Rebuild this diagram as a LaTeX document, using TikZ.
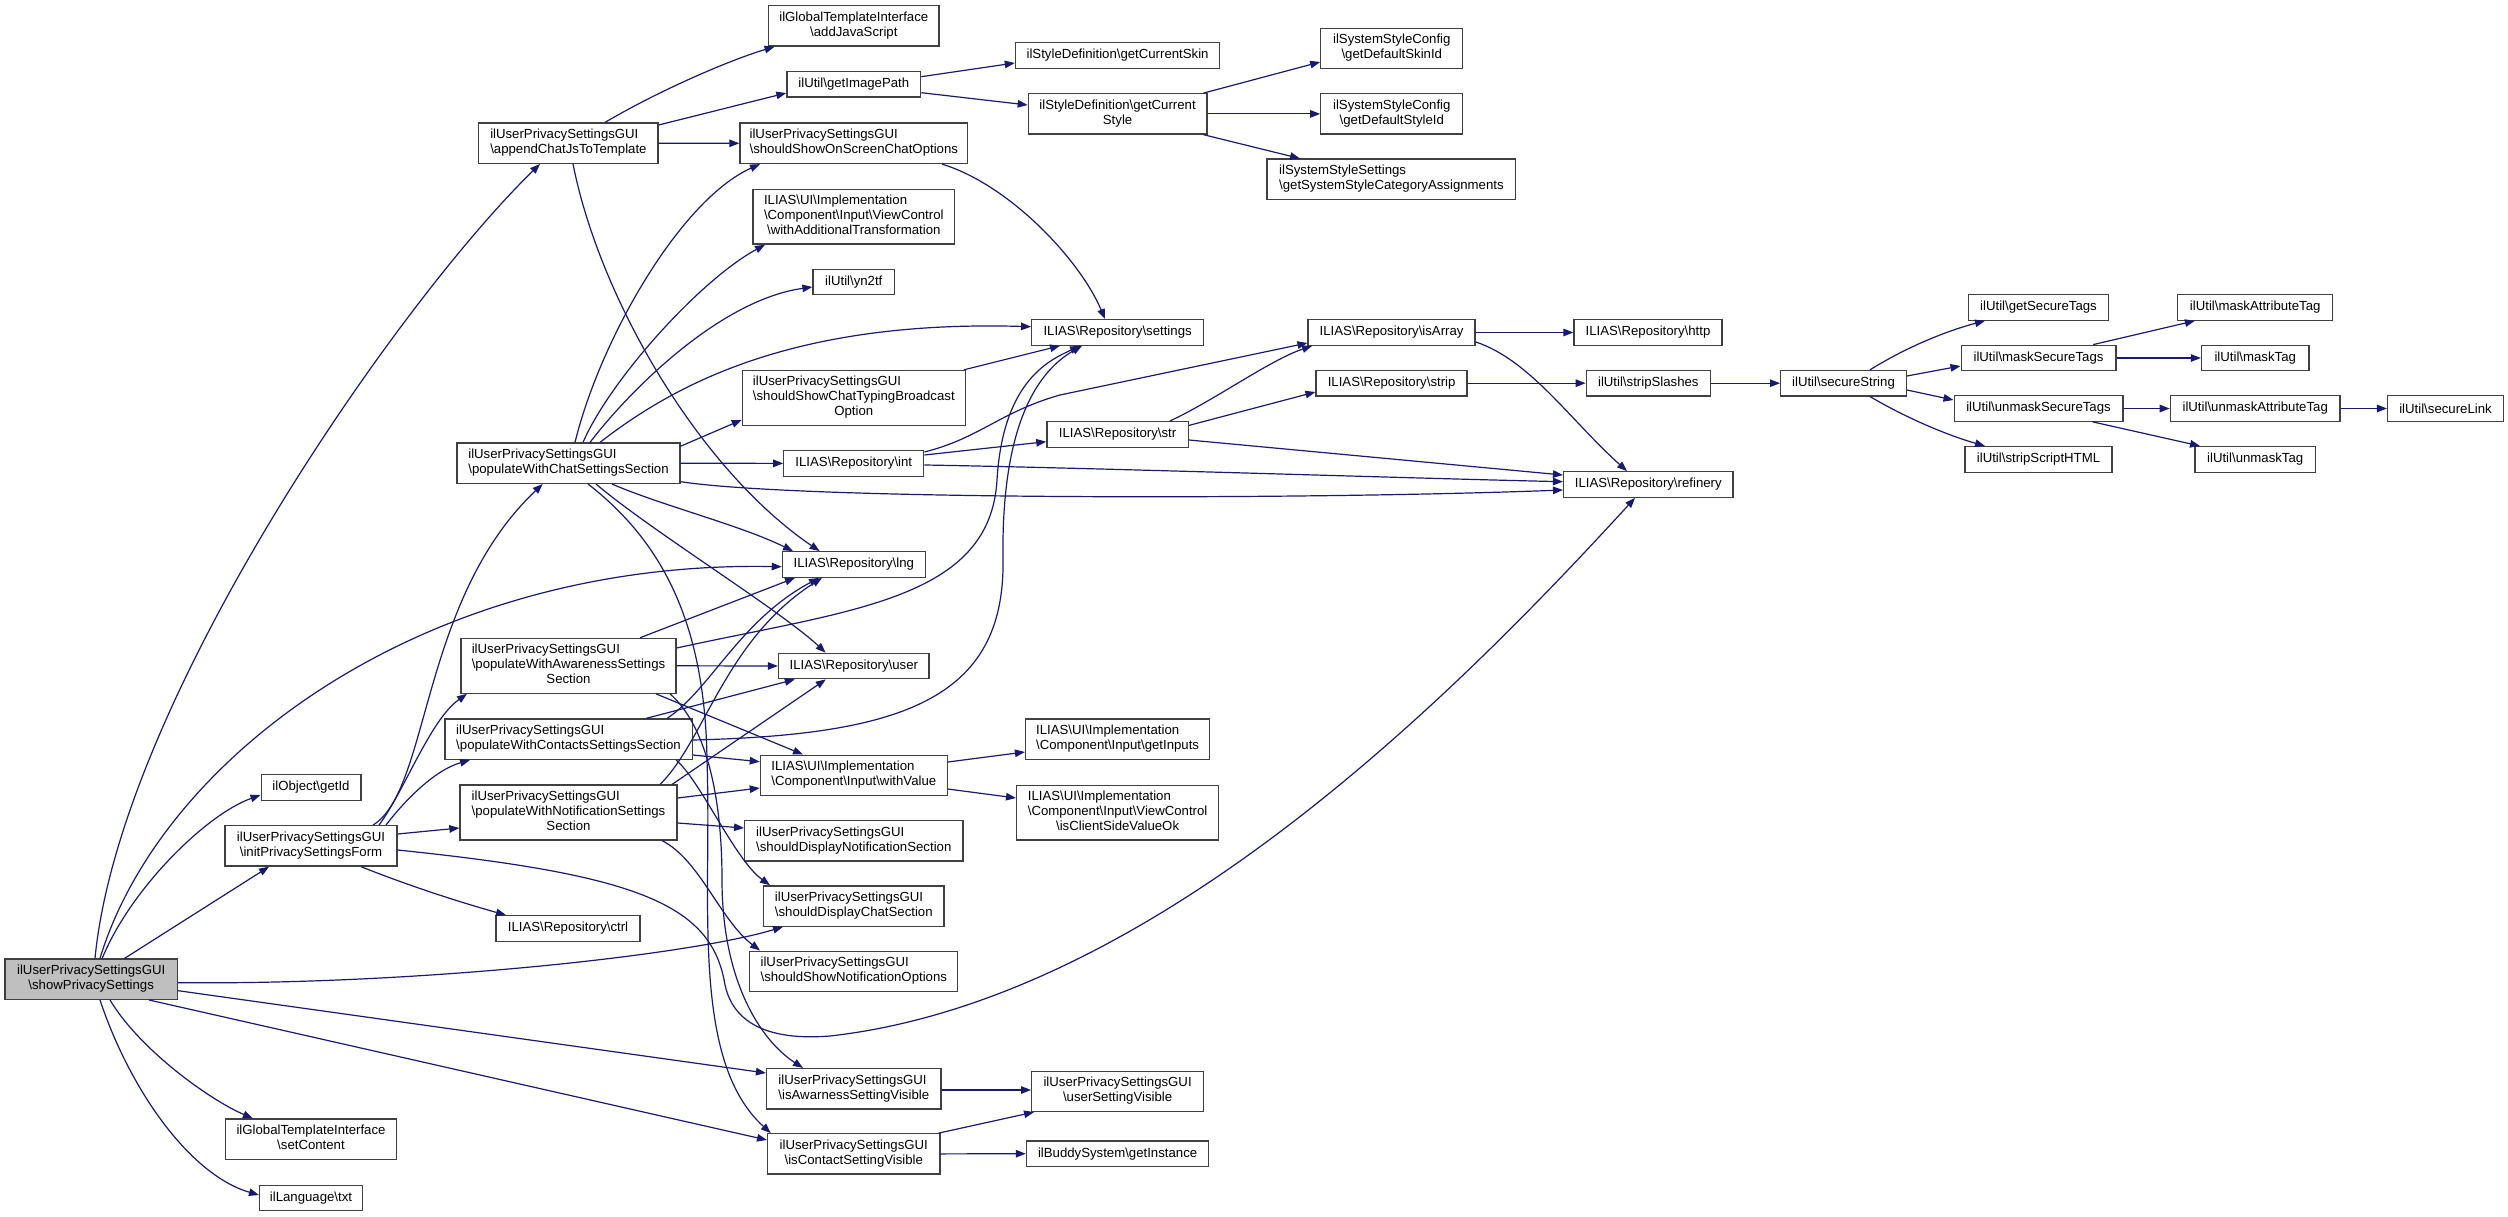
\documentclass[tikz,border=0pt]{standalone}
\usepackage{fontspec}
\setmainfont{Liberation Sans}
\usetikzlibrary{arrows.meta}
\definecolor{edgec}{HTML}{191970}
\definecolor{boxc}{HTML}{404040}
\definecolor{mainfill}{HTML}{BFBFBF}
\newcommand\bs{\textbackslash}
\newcommand\mlab[2]{\begin{tabular}{@{}l@{}}#1\\\multicolumn{1}{@{}c@{}}{#2}\end{tabular}}
\newcommand\nd[6]{\node[box, minimum width=#4, minimum height=#5] (#1) at (#2,#3) {#6};}
\begin{document}
\begin{tikzpicture}[x=1pt,y=-1pt,
  box/.style={draw=boxc, line width=1.3, fill=white, inner sep=0pt, align=center,
    font=\fontsize{13.2}{15}\selectfont},
  cg/.style={draw=edgec, line width=1.2, -{Triangle[length=10pt,width=7.5pt]}}]
\useasboundingbox (0,0) rectangle (2508,1217);
% nodes
\node[box, fill=mainfill, minimum width=172.6, minimum height=40.3] (S) at (91.2,979.2) {\mlab{ilUserPrivacySettingsGUI}{\bs showPrivacySettings}};
\nd{A}{568.4}{143.2}{179.3}{40.3}{\mlab{ilUserPrivacySettingsGUI}{\bs appendChatJsToTemplate}}
\nd{addJS}{853.8}{25.9}{170.5}{40.3}{\mlab{ilGlobalTemplateInterface}{\bs addJavaScript}}
\nd{gip}{853.8}{84.4}{133.7}{25.5}{ilUtil\bs getImagePath}
\nd{gcs}{1117.6}{55.5}{204.4}{25.5}{ilStyleDefinition\bs getCurrentSkin}
\nd{gcst}{1117.6}{113.9}{178.6}{40.3}{\mlab{ilStyleDefinition\bs getCurrent}{Style}}
\nd{dsk}{1391.8}{48.5}{142}{40.3}{\mlab{ilSystemStyleConfig}{\bs getDefaultSkinId}}
\nd{dst}{1391.8}{113.9}{142}{40.3}{\mlab{ilSystemStyleConfig}{\bs getDefaultStyleId}}
\nd{ssca}{1391.4}{179.3}{248.8}{40.3}{\mlab{ilSystemStyleSettings}{\bs getSystemStyleCategoryAssignments}}
\nd{ossc}{853.8}{143.3}{227.6}{40.3}{\mlab{ilUserPrivacySettingsGUI}{\bs shouldShowOnScreenChatOptions}}
\nd{wat}{853.8}{216.7}{201.6}{54.8}{\mlab{ILIAS\bs UI\bs Implementation\\\bs Component\bs Input\bs ViewControl}{\bs withAdditionalTransformation}}
\nd{yn}{853.8}{282}{81.6}{25.5}{ilUtil\bs yn2tf}
\nd{set}{1117.6}{332.4}{171.8}{25.5}{ILIAS\bs Repository\bs settings}
\nd{sctb}{853.8}{397.9}{222.8}{54.8}{\mlab{ilUserPrivacySettingsGUI\\\bs shouldShowChatTypingBroadcast}{Option}}
\nd{isA}{1391.6}{332.5}{167}{25.5}{ILIAS\bs Repository\bs isArray}
\nd{http}{1648}{332.5}{148}{25.5}{ILIAS\bs Repository\bs http}
\nd{strip}{1391.6}{383.2}{151}{25.5}{ILIAS\bs Repository\bs strip}
\nd{sts}{1648.3}{383.2}{124}{25.5}{ilUtil\bs stripSlashes}
\nd{ss}{1843.5}{383.2}{125.7}{25.5}{ilUtil\bs secureString}
\nd{gst}{2038.5}{307.4}{140.3}{25.5}{ilUtil\bs getSecureTags}
\nd{mst}{2038.5}{358}{154.7}{25.5}{ilUtil\bs maskSecureTags}
\nd{ust}{2038.5}{408.5}{168.7}{25.5}{ilUtil\bs unmaskSecureTags}
\nd{ssh}{2038.5}{459.4}{147.2}{25.5}{ilUtil\bs stripScriptHTML}
\nd{mat}{2255.2}{307.4}{155.1}{25.5}{ilUtil\bs maskAttributeTag}
\nd{mt}{2255.2}{358}{107.4}{25.5}{ilUtil\bs maskTag}
\nd{uat}{2255.2}{408.5}{169.7}{25.5}{ilUtil\bs unmaskAttributeTag}
\nd{sl}{2445.5}{408.5}{115.9}{25.5}{ilUtil\bs secureLink}
\nd{ut}{2255.2}{459.4}{120.3}{25.5}{ilUtil\bs unmaskTag}
\nd{chat}{568.5}{463.2}{223}{40.3}{\mlab{ilUserPrivacySettingsGUI}{\bs populateWithChatSettingsSection}}
\nd{int}{853.8}{463.4}{140}{25.5}{ILIAS\bs Repository\bs int}
\nd{str}{1117.6}{434.4}{141.4}{25.5}{ILIAS\bs Repository\bs str}
\nd{ref}{1648.3}{484.5}{169.4}{25.5}{ILIAS\bs Repository\bs refinery}
\nd{lng}{853.8}{564.5}{142.8}{25.5}{ILIAS\bs Repository\bs lng}
\nd{user}{853.8}{666}{150.6}{25.5}{ILIAS\bs Repository\bs user}
\nd{aw}{568.5}{665.8}{215}{54.8}{\mlab{ilUserPrivacySettingsGUI\\\bs populateWithAwarenessSettings}{Section}}
\nd{con}{568.5}{739.2}{247.3}{40.3}{\mlab{ilUserPrivacySettingsGUI}{\bs populateWithContactsSettingsSection}}
\nd{notif}{568.5}{812.5}{217}{54.8}{\mlab{ilUserPrivacySettingsGUI\\\bs populateWithNotificationSettings}{Section}}
\nd{getId}{311}{787.4}{99.7}{25.5}{ilObject\bs getId}
\nd{wv}{853.8}{775.3}{186.8}{40.3}{\mlab{ILIAS\bs UI\bs Implementation}{\bs Component\bs Input\bs withValue}}
\nd{gin}{1117.6}{739.2}{184}{40.3}{\mlab{ILIAS\bs UI\bs Implementation}{\bs Component\bs Input\bs getInputs}}
\nd{csv}{1117.6}{812.7}{201.9}{54.8}{\mlab{ILIAS\bs UI\bs Implementation\\\bs Component\bs Input\bs ViewControl}{\bs isClientSideValueOk}}
\nd{init}{311}{845.9}{172}{40.3}{\mlab{ilUserPrivacySettingsGUI}{\bs initPrivacySettingsForm}}
\nd{ctrl}{568}{928.5}{144}{25.5}{ILIAS\bs Repository\bs ctrl}
\nd{sdns}{853.8}{840.9}{218.2}{40.3}{\mlab{ilUserPrivacySettingsGUI}{\bs shouldDisplayNotificationSection}}
\nd{sdcs}{853.8}{906}{180.4}{40.3}{\mlab{ilUserPrivacySettingsGUI}{\bs shouldDisplayChatSection}}
\nd{ssno}{853.8}{971.3}{208}{40.3}{\mlab{ilUserPrivacySettingsGUI}{\bs shouldShowNotificationOptions}}
\nd{iasv}{853.8}{1088.7}{174.5}{40.3}{\mlab{ilUserPrivacySettingsGUI}{\bs isAwarnessSettingVisible}}
\nd{usv}{1117.6}{1091.3}{171.8}{40.3}{\mlab{ilUserPrivacySettingsGUI}{\bs userSettingVisible}}
\nd{icsv}{853.8}{1153.9}{172.3}{40.3}{\mlab{ilUserPrivacySettingsGUI}{\bs isContactSettingVisible}}
\nd{gi}{1117.6}{1153.7}{182.4}{25.5}{ilBuddySystem\bs getInstance}
\nd{setC}{311}{1139.2}{171}{40.3}{\mlab{ilGlobalTemplateInterface}{\bs setContent}}
\nd{txt}{311}{1197.9}{102.8}{25.5}{ilLanguage\bs txt}
% edges from showPrivacySettings
\draw[cg] ([xshift=3.8]S.north) .. controls (120,700) and (400,300) .. ([xshift=-28.4]A.south);
\draw[cg] ([xshift=8.8]S.north) .. controls (160,760) and (420,560) .. ([yshift=-2.2]lng.west);
\draw[cg] ([xshift=11]S.north) .. controls (130,890) and (205,815) .. ([yshift=-7.6]getId.west);
\draw[cg] ([xshift=33.3]S.north) -- ([xshift=-42]init.south);
\draw[cg] ([yshift=-3.5]S.east) .. controls (420,985) and (690,955) .. ([xshift=-70.8]sdcs.south);
\draw[cg] ([yshift=-11.5]S.east) -- ([yshift=15.7]iasv.west);
\draw[cg] ([xshift=57.8]S.south) -- ([yshift=13.9]icsv.west);
\draw[cg] ([xshift=18.8]S.south) .. controls (140,1050) and (210,1100) .. ([xshift=-58.1]setC.north);
\draw[cg] ([xshift=8.8]S.south) .. controls (130,1090) and (190,1175) .. ([yshift=2.9]txt.west);
% initPrivacySettingsForm
\draw[cg] ([xshift=62]init.north) .. controls (430,790) and (420,600) .. ([xshift=-25.8]chat.south);
\draw[cg] ([xshift=68]init.north) .. controls (405,790) and (430,720) .. ([xshift=-101.5]aw.south);
\draw[cg] ([xshift=75]init.north) .. controls (405,800) and (435,770) .. ([xshift=-98.5]con.south);
\draw[cg] ([yshift=11.9]init.east) -- ([yshift=-15.5]notif.west);
\draw[cg] ([xshift=50]init.south) .. controls (420,890) and (470,905) .. ([xshift=-62]ctrl.north);
\draw[cg] ([yshift=-4.1]init.east) .. controls (640,875) and (712,905) .. (725,985) .. controls (735,1030) and (780,1040) .. (830,1036) .. controls (1150,1000) and (1450,700) .. ([xshift=-13.3]ref.south);
% appendChatJsToTemplate
\draw[cg] ([xshift=36.6]A.north) .. controls (660,90) and (730,60) .. ([xshift=-79.2]addJS.south);
\draw[cg] ([yshift=18.2]A.east) -- ([yshift=-8.6]gip.west);
\draw[cg] (A.east) -- (ossc.west);
\draw[cg] ([xshift=4.6]A.south) .. controls (600,300) and (700,470) .. ([xshift=-34.2]lng.north);
% style chain
\draw[cg] ([yshift=7.7]gip.east) -- ([yshift=-7.5]gcs.west);
\draw[cg] ([yshift=-8.3]gip.east) -- ([yshift=8.9]gcst.west);
\draw[cg] ([xshift=-4]gcst.north east) -- ([yshift=-13.5]dsk.west);
\draw[cg] (gcst.east) -- (dst.west);
\draw[cg] ([xshift=-4]gcst.south east) -- ([xshift=-91.4]ssca.north);
\draw[cg] ([xshift=88.2]ossc.south) .. controls (1010,185) and (1080,260) .. ([xshift=-12.6]set.north);
% populateWithChatSettingsSection
\draw[cg] ([xshift=6.5]chat.north) .. controls (600,340) and (680,200) .. ([xshift=-93.8]ossc.south);
\draw[cg] ([xshift=14.5]chat.north) .. controls (610,380) and (700,280) .. ([xshift=-88.8]wat.south);
\draw[cg] ([xshift=21.5]chat.north) .. controls (630,390) and (720,300) .. ([yshift=-5]yn.west);
\draw[cg] ([xshift=31.5]chat.north) .. controls (680,380) and (800,320) .. ([yshift=5.7]set.west);
\draw[cg] ([yshift=17]chat.east) -- ([yshift=-22]sctb.west);
\draw[cg] (chat.east) -- (int.west);
\draw[cg] ([yshift=-18.5]chat.east) .. controls (800,500) and (1300,500) .. ([yshift=-5.5]ref.west);
\draw[cg] ([xshift=43.5]chat.south) .. controls (660,505) and (740,525) .. ([xshift=-60.8]lng.north);
\draw[cg] ([xshift=27.5]chat.south) .. controls (650,530) and (780,610) .. ([xshift=-28.2]user.north);
\draw[cg] ([xshift=19.5]chat.south) .. controls (660,540) and (705,620) .. (707,760) .. controls (712,900) and (690,1060) .. ([xshift=-83]icsv.north);
\draw[cg] ([xshift=-2]sctb.north east) -- ([xshift=-57.6]set.south);
% populateWithAwarenessSettingsSection
\draw[cg] ([yshift=17.8]aw.east) .. controls (850,610) and (990,600) .. (997,480) .. controls (1003,380) and (1050,360) .. ([xshift=-37.6]set.south);
\draw[cg] ([xshift=71.5]aw.north) -- ([xshift=-58.8]lng.south);
\draw[cg] (aw.east) -- (user.west);
\draw[cg] ([xshift=87.5]aw.south) -- ([xshift=-50.8]wv.north);
\draw[cg] ([xshift=101.5]aw.south) .. controls (700,720) and (722,780) .. (722,880) .. controls (722,980) and (760,1040) .. ([xshift=-50.8]iasv.north);
% populateWithContactsSettingsSection
\draw[cg] ([yshift=-0.8]con.east) .. controls (900,735) and (1005,700) .. (1003,560) .. controls (1001,420) and (1040,370) .. ([xshift=-35.6]set.south);
\draw[cg] ([xshift=98.6]con.north) .. controls (710,690) and (740,620) .. ([xshift=-34.8]lng.south);
\draw[cg] ([xshift=77.6]con.north) -- ([xshift=-59]user.south);
\draw[cg] ([yshift=-15.8]con.east) -- ([yshift=13.6]wv.west);
\draw[cg] ([xshift=107.6]con.south) .. controls (700,780) and (735,860) .. ([xshift=-83.8]sdcs.north);
% populateWithNotificationSettingsSection
\draw[cg] ([xshift=91.5]notif.north) .. controls (705,740) and (725,640) .. ([xshift=-31.8]lng.south);
\draw[cg] ([xshift=103.5]notif.north) -- ([xshift=-28]user.south);
\draw[cg] ([yshift=14.5]notif.east) -- ([yshift=-12.7]wv.west);
\draw[cg] ([yshift=-10.5]notif.east) -- ([yshift=12.9]sdns.west);
\draw[cg] ([xshift=93.5]notif.south) .. controls (700,860) and (720,920) .. ([xshift=-93.8]ssno.north);
% repository
\draw[cg] ([yshift=8.4]int.east) -- ([yshift=-7.3]str.west);
\draw[cg] ([yshift=-1.6]int.east) .. controls (1100,468) and (1400,478) .. ([yshift=2.8]ref.west);
\draw[cg] ([yshift=11.4]int.east) .. controls (980,438) and (1000,412) .. (1060,395) -- ([yshift=-10.5]isA.west);
\draw[cg] ([xshift=52.3]str.north) .. controls (1215,400) and (1270,360) .. ([xshift=-79.5]isA.south);
\draw[cg] ([yshift=9]str.east) -- ([yshift=-8.8]strip.west);
\draw[cg] ([yshift=-5.6]str.east) -- ([yshift=9.5]ref.west);
\draw[cg] (isA.east) -- (http.west);
\draw[cg] ([yshift=-9.5]isA.east) .. controls (1530,360) and (1570,420) .. ([xshift=-21.3]ref.north);
\draw[cg] (strip.east) -- (sts.west);
\draw[cg] (sts.east) -- (ss.west);
\draw[cg] ([xshift=26.5]ss.north) .. controls (1910,345) and (1950,330) .. ([xshift=-53.5]gst.south);
\draw[cg] ([yshift=7.2]ss.east) -- ([yshift=-8]mst.west);
\draw[cg] ([yshift=-6.8]ss.east) -- ([yshift=8.5]ust.west);
\draw[cg] ([xshift=26.5]ss.south) .. controls (1910,420) and (1950,436) .. ([xshift=-53.5]ssh.north);
\draw[cg] ([xshift=54.7]mst.north) -- ([xshift=-60.3]mat.south);
\draw[cg] (mst.east) -- (mt.west);
\draw[cg] (ust.east) -- (uat.west);
\draw[cg] ([xshift=54.3]ust.south) -- ([xshift=-55.2]ut.north);
\draw[cg] (uat.east) -- (sl.west);
% lower right
\draw[cg] ([yshift=-1.3]iasv.east) -- ([yshift=1.3]usv.west);
\draw[cg] ([xshift=-2]icsv.north east) -- ([xshift=3]usv.south west);
\draw[cg] (icsv.east) -- (gi.west);
\draw[cg] ([yshift=13.3]wv.east) -- ([yshift=-12.8]gin.west);
\draw[cg] ([yshift=-13.7]wv.east) -- ([yshift=14.7]csv.west);
\end{tikzpicture}
\end{document}
